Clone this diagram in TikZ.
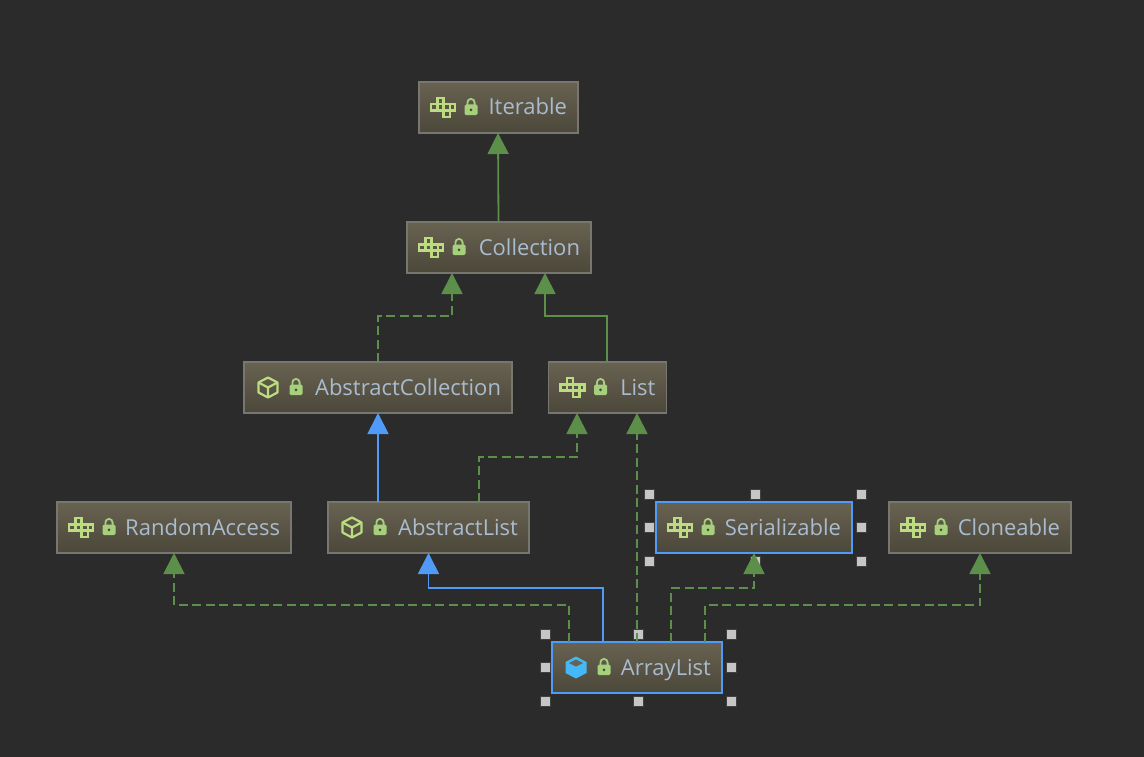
\documentclass[tikz,border=0pt]{standalone}
\usepackage{fontspec}
\setmainfont{Open Sans}
\usepackage{tikz}
\usetikzlibrary{arrows.meta, calc}
\definecolor{bgdark}{HTML}{2B2B2B}
\definecolor{boxtop}{HTML}{686251}
\definecolor{boxbot}{HTML}{4B473A}
\definecolor{boxline}{HTML}{77776F}
\definecolor{labeltext}{HTML}{A9BCCF}
\definecolor{linkgreen}{HTML}{5C8F4A}
\definecolor{linkblue}{HTML}{4F9BF7}
\definecolor{icongreen}{HTML}{BBDD80}
\definecolor{lockgreen}{HTML}{A6D07C}
\definecolor{cubeblue}{HTML}{45B8F8}
\newcommand{\selhandles}[1]{%
    \foreach \anc/\dx/\dy in {north west/-7/-8, north/1/-8, north east/9/-8, west/-7/0, east/9/0, south west/-7/8, south/1/8, south east/9/8}
        \node[handle] (#1 \anc) at ([shift={(\dx,\dy)}]#1.\anc) {};
}
\begin{document}
\begin{tikzpicture}[
                x=1pt, y=-1pt,
                box/.style={rectangle, draw=boxline, line width=1.4pt, top color=boxtop, bottom color=boxbot, minimum height=51pt, inner xsep=11pt, inner ysep=0pt, outer sep=0pt, align=right, text height=16pt, text depth=1pt, text=labeltext, font=\fontsize{22}{26}\selectfont},
                selbox/.style={box, draw=linkblue},
                handle/.style={rectangle, draw=gray!50!black, line width=0.6pt, fill=gray!45!white, minimum size=10pt, inner sep=0pt, outer sep=0pt},
                extends/.style={line width=1.8pt, linkgreen, -{Triangle[length=21pt, width=21pt]}},
                implements/.style={extends, dash pattern=on 9pt off 4.5pt},
                superclass/.style={line width=1.8pt, linkblue, -{Triangle[length=21pt, width=21pt]}},
                ifaceicon/.pic={
                    \foreach \cx/\cy in {0/0, 1/-1, 1/0, 2/0, 2/1}
                        \draw[icongreen, line width=2.4pt] (\cx*6.3+1, \cy*6.3-3.2) rectangle ++(6.3, 6.3);
                    \draw[icongreen, line width=2.4pt] (3*6.3+1, -3.2) rectangle ++(5, 6.3);
                },
                absicon/.pic={
                    \draw[icongreen, line width=2.2pt, line join=round] (11, -10) -- (20.5, -5) -- (20.5, 5) -- (11, 10) -- (1.5, 5) -- (1.5, -5) -- cycle;
                    \draw[icongreen, line width=2.2pt, line join=round] (1.5, -5) -- (11, 0) -- (20.5, -5) (11, 0) -- (11, 10);
                },
                clsicon/.pic={
                    \fill[cubeblue] (11, -11) -- (21.5, -5.5) -- (21.5, 5.5) -- (11, 11) -- (0.5, 5.5) -- (0.5, -5.5) -- cycle;
                    \fill[boxtop] (11, -8) -- (18, -4.5) -- (11, -1) -- (4, -4.5) -- cycle;
                },
                lockicon/.pic={
                    \draw[lockgreen, line width=1.8pt] (-3.6, -2) -- (-3.6, -5) arc[start angle=180, end angle=360, x radius=3.6, y radius=3.6] -- (3.6, -2);
                    \fill[lockgreen, rounded corners=1.5pt] (-6.5, -3) rectangle (6.5, 7.7);
                    \fill[boxbot] (0, 2.4) circle (1.5);
                }
            ]
                \useasboundingbox (0,0) rectangle (1144,757);
                \fill[bgdark] (0,0) rectangle (1144,757);

                \node[box, text width=137pt] (iterable) at (498.5,107.5) {Iterable};
                \node[box, text width=162pt] (coll) at (499,247.5) {Collection};
                \node[box, text width=246pt] (abscoll) at (378,387.5) {AbstractCollection};
                \node[box, text width=96pt] (list) at (607.5,387.5) {List};
                \node[box, text width=212pt] (randacc) at (174,527.5) {RandomAccess};
                \node[box, text width=179pt] (abslist) at (428.5,527.5) {AbstractList};
                \node[selbox, text width=174pt] (serial) at (754,527.5) {Serializable};
                \node[box, text width=160pt] (clone) at (980,527.5) {Cloneable};
                \node[selbox, text width=148pt] (arrlist) at (637,667.5) {ArrayList};

                \foreach \n in {iterable, coll, list, randacc, serial, clone}
                    \pic at ([xshift=11pt]\n.west) {ifaceicon};
                \foreach \n in {abscoll, abslist}
                    \pic at ([xshift=13pt]\n.west) {absicon};
                \pic at ([xshift=13pt]arrlist.west) {clsicon};
                \foreach \n in {iterable, coll, abscoll, list, randacc, abslist, serial, clone, arrlist}
                    \pic at ([xshift=52pt]\n.west) {lockicon};

                \selhandles{serial}
                \selhandles{arrlist}

                \draw[extends] ([xshift=-0.5pt]coll.north) -- ([xshift=-0.5pt]iterable.south);
                \draw[implements] (abscoll.north) -- ++(0,-46) -| ([xshift=-47pt]coll.south);
                \draw[extends] ([xshift=-0.5pt]list.north) -- ++(0,-46) -| ([xshift=46pt]coll.south);
                \draw[superclass] ([xshift=-50.5pt]abslist.north) -- (abscoll.south);
                \draw[implements] ([xshift=50.5pt]abslist.north) -- ++(0,-45) -| ([xshift=-30.5pt]list.south);
                \draw[implements] (arrlist.north) -- ([xshift=29.5pt]list.south);
                \draw[superclass] ([xshift=-34pt]arrlist.north) -- ++(0,-54) -| (abslist.south);
                \draw[implements] ([xshift=-68pt]arrlist.north) -- ++(0,-37) -| (randacc.south);
                \draw[implements] ([xshift=34pt]arrlist.north) -- ++(0,-54) -| (serial.south);
                \draw[implements] ([xshift=68pt]arrlist.north) -- ++(0,-37) -| (clone.south);
            \end{tikzpicture}
\end{document}
